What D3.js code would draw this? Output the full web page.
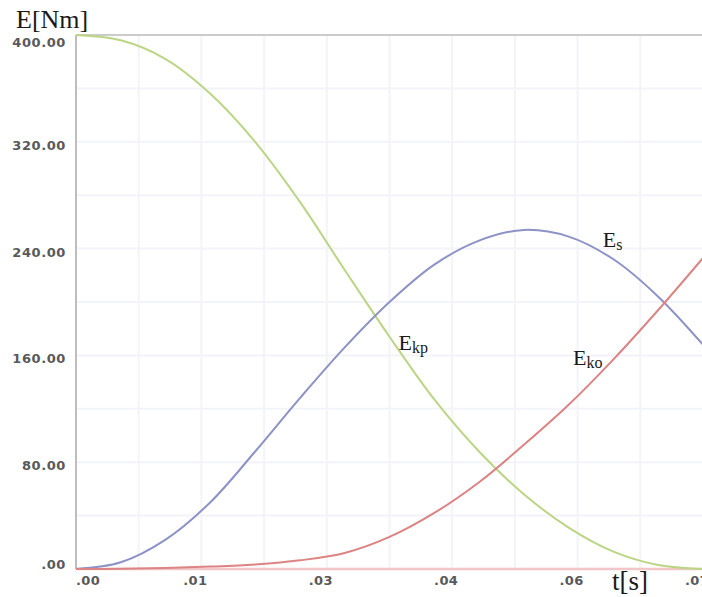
<!DOCTYPE html>
<html>
<head>
<meta charset="utf-8">
<script src="https://cdn.jsdelivr.net/npm/d3@7"></script>
<style>
  html, body { margin: 0; padding: 0; background: #fff; }
  svg { display: block; }
</style>
</head>
<body>
<svg id="chart" width="702" height="597"></svg>
<script>
// time axis samples [s]
const time = [0, 0.005, 0.010, 0.015, 0.020, 0.025, 0.030, 0.035, 0.040, 0.045, 0.050, 0.055, 0.060, 0.065, 0.070];
// kinetic energy of the pushing body E_kp [Nm]
const eKp = [400, 396, 382, 356, 320, 275, 224, 174, 127, 88, 56, 31, 13, 3, 0];
// spring energy E_s [Nm]
const eS  = [0, 5, 22, 50, 88, 128, 166, 200, 228, 246, 254, 249, 232, 204, 168];
// kinetic energy of the driven body E_ko [Nm]
const eKo = [0, 0.2, 0.8, 1.8, 3.4, 6.5, 12, 24, 42, 65, 93, 123, 157, 194, 233];

const xTicks = [0, 0.014, 0.028, 0.042, 0.056, 0.070];
const yTicks = [0, 80, 160, 240, 320, 400];
const xGrid = d3.range(0, 11).map(i => i * 0.007);
const yGrid = d3.range(0, 11).map(i => i * 40);

const seriesNames = [["E", "kp"], ["E", "s"], ["E", "ko"]];

const svg = d3.select("#chart");
const x = d3.scaleLinear().domain([0, 0.07]).range([76, 703]);
const y = d3.scaleLinear().domain([0, 400]).range([569, 35]);

const noLead = s => s.startsWith("0.") ? s.slice(1) : s;
const fmt = v => noLead(d3.format(".2f")(v));

// faint grid
svg.append("g").selectAll("line").data(xGrid).join("line")
  .attr("x1", d => x(d)).attr("x2", d => x(d))
  .attr("y1", y(400)).attr("y2", y(0))
  .attr("stroke", "#f3f4f9").attr("stroke-width", 2);
svg.append("g").selectAll("line").data(yGrid).join("line")
  .attr("x1", x(0)).attr("x2", x(0.07))
  .attr("y1", d => y(d)).attr("y2", d => y(d))
  .attr("stroke", "#f3f4f9").attr("stroke-width", 2);

// frame: top and left in grey, baseline in light pink
svg.append("line").attr("x1", x(0)).attr("x2", x(0.07))
  .attr("y1", y(400)).attr("y2", y(400))
  .attr("stroke", "#cbcbcb").attr("stroke-width", 2);
svg.append("line").attr("x1", x(0)).attr("x2", x(0))
  .attr("y1", y(400)).attr("y2", y(0))
  .attr("stroke", "#bdbdbd").attr("stroke-width", 2);
svg.append("line").attr("x1", x(0)).attr("x2", x(0.07))
  .attr("y1", y(0)).attr("y2", y(0))
  .attr("stroke", "#f2c6c6").attr("stroke-width", 2.5);

// curves
const line = vals => d3.line()
  .x((d, i) => x(time[i]))
  .y(d => y(d))
  .curve(d3.curveCatmullRom.alpha(0.5))(vals);

const curves = [
  { vals: eKp, color: "#bcd584" },
  { vals: eS,  color: "#8c92c6" },
  { vals: eKo, color: "#dc8383" }
];
svg.append("g").selectAll("path").data(curves).join("path")
  .attr("d", d => line(d.vals))
  .attr("fill", "none")
  .attr("stroke", d => d.color)
  .attr("stroke-width", 2);

// y tick labels
svg.append("g").selectAll("text").data(yTicks).join("text")
  .attr("x", 66)
  .attr("y", d => Math.max(47, Math.min(569, y(d) + 8)))
  .attr("text-anchor", "end")
  .attr("font-family", "DejaVu Sans, sans-serif")
  .attr("font-size", 13)
  .attr("font-weight", "bold")
  .attr("letter-spacing", 0.6)
  .attr("fill", "#595959")
  .text(fmt);

// x tick labels
svg.append("g").selectAll("text").data(xTicks).join("text")
  .attr("x", (d, i) => i === 0 ? x(d) : x(d) - 6)
  .attr("y", 585)
  .attr("text-anchor", (d, i) => i === 0 ? "start" : "middle")
  .attr("font-family", "DejaVu Sans, sans-serif")
  .attr("font-size", 13)
  .attr("font-weight", "bold")
  .attr("letter-spacing", 0.4)
  .attr("fill", "#595959")
  .text(fmt);

// axis titles
const serif = "Liberation Serif, Times New Roman, serif";
svg.append("text").attr("x", 16).attr("y", 28)
  .attr("font-family", serif).attr("font-size", 26).attr("fill", "#1a1a1a")
  .text("E[Nm]");
svg.append("text").attr("x", 612).attr("y", 590)
  .attr("font-family", serif).attr("font-size", 27).attr("fill", "#1a1a1a")
  .text("t[s]");

// curve names with subscripts
const namePos = [
  { t: 0.0360, v: 164 },
  { t: 0.0588, v: 241 },
  { t: 0.0555, v: 153 }
];
namePos.forEach((p, i) => {
  const tx = svg.append("text")
    .attr("x", x(p.t)).attr("y", y(p.v))
    .attr("font-family", serif).attr("font-size", 22).attr("fill", "#1a1a1a");
  tx.append("tspan").text(seriesNames[i][0]);
  tx.append("tspan").attr("font-size", 16).attr("dy", 3).text(seriesNames[i][1]);
});
</script>
</body>
</html>
